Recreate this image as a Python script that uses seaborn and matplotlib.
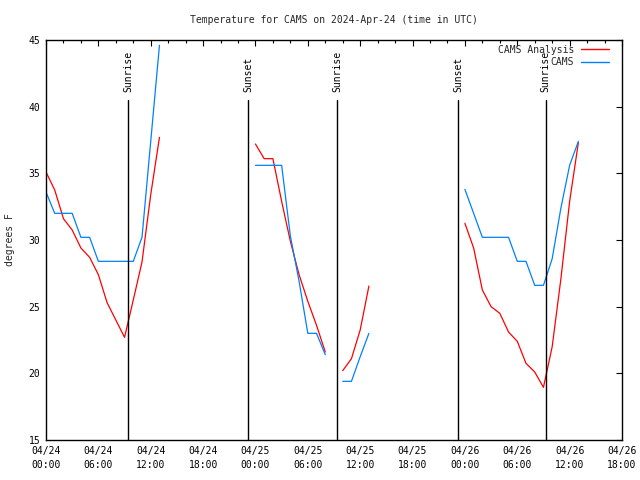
import matplotlib
matplotlib.use("Agg")
import matplotlib.pyplot as plt
import matplotlib.dates as mdates
from matplotlib.lines import Line2D
import numpy as np
import pandas as pd
import seaborn as sns

# ---------------- data ----------------
start = "2024-04-24 00:00"
hours_seg1 = list(range(0, 14))
analysis_seg1 = [35.1, 33.75, 31.6, 30.75, 29.4, 28.7, 27.4, 25.3, 24.0, 22.7, 25.5, 28.35, 33.4, 37.7]
cams_seg1 = [33.6, 32.0, 32.0, 32.0, 30.2, 30.2, 28.4, 28.4, 28.4, 28.4, 28.4, 30.2, 37.4, 44.6]

hours_seg2 = list(range(24, 33))
analysis_seg2 = [37.2, 36.1, 36.1, 32.9, 29.9, 27.4, 25.4, 23.6, 21.6]
cams_seg2 = [35.6, 35.6, 35.6, 35.6, 30.3, 26.9, 23.0, 23.0, 21.4]

hours_seg3 = list(range(34, 38))
analysis_seg3 = [20.2, 21.1, 23.25, 26.55]
cams_seg3 = [19.4, 19.4, 21.25, 23.0]

hours_seg4 = list(range(48, 62))
analysis_seg4 = [31.25, 29.4, 26.25, 25.0, 24.5, 23.1, 22.4, 20.75, 20.1, 18.95, 22.0, 27.1, 32.9, 37.3]
cams_seg4 = [33.8, 32.0, 30.2, 30.2, 30.2, 30.2, 28.4, 28.4, 26.6, 26.6, 28.6, 32.4, 35.6, 37.4]

sun_labels = ["Sunrise", "Sunset", "Sunrise", "Sunset", "Sunrise"]
sun_times = ["2024-04-24 09:26", "2024-04-24 23:11", "2024-04-25 09:23",
             "2024-04-25 23:15", "2024-04-26 09:16"]

series_names = ["CAMS Analysis", "CAMS"]
series_colors = ["#ff0000", "#0080ff"]

title = "Temperature for CAMS on 2024-Apr-24 (time in UTC)"
ylabel = "degrees F"

# ---------------- build table ----------------
rows = []
segs = [(hours_seg1, analysis_seg1, cams_seg1),
        (hours_seg2, analysis_seg2, cams_seg2),
        (hours_seg3, analysis_seg3, cams_seg3),
        (hours_seg4, analysis_seg4, cams_seg4)]
t0 = pd.Timestamp(start)
for si, (hrs, a, c) in enumerate(segs):
    for h, va, vc in zip(hrs, a, c):
        rows.append(dict(time=t0 + pd.Timedelta(hours=h), value=va,
                         series=series_names[0], seg=si))
        rows.append(dict(time=t0 + pd.Timedelta(hours=h), value=vc,
                         series=series_names[1], seg=si))
df = pd.DataFrame(rows)

sns.set_theme(style="white")
plt.rcParams["font.family"] = ["DejaVu Sans Mono", "DejaVu Sans"]
plt.rcParams["font.size"] = 7

fig = plt.figure(figsize=(6.4, 4.8), dpi=100)
ax = fig.add_axes([46 / 640, 40 / 480, 576 / 640, 400 / 480])

sns.lineplot(data=df, x="time", y="value", hue="series", units="seg",
             estimator=None, palette=dict(zip(series_names, series_colors)),
             hue_order=series_names, linewidth=0.9, legend=False, ax=ax,
             sort=True)

ax.set_xlim(t0, t0 + pd.Timedelta(hours=66))
ax.set_ylim(15, 45)
ax.set_yticks(np.arange(15, 46, 5))

for lab, st in zip(sun_labels, sun_times):
    ts = pd.Timestamp(st)
    ax.plot([ts, ts], [15, 40.5], color="black", linewidth=1.0)
    ax.text(ts, 41.1, lab, rotation=90, ha="center", va="bottom",
            fontsize=7, color="black")

ax.xaxis.set_major_locator(mdates.HourLocator(byhour=[0, 6, 12, 18]))
ax.xaxis.set_minor_locator(mdates.HourLocator(byhour=range(0, 24, 2)))
ax.xaxis.set_major_formatter(mdates.DateFormatter("%m/%d\n%H:%M"))

ax.tick_params(axis="both", which="both", direction="in", top=True, right=True,
               colors="black", labelsize=7)
ax.tick_params(axis="both", which="major", length=4, width=0.8, pad=4)
ax.tick_params(axis="x", which="minor", length=2.5, width=0.8)
for lab in ax.get_xticklabels():
    lab.set_linespacing(1.5)

for sp in ax.spines.values():
    sp.set_color("black")
    sp.set_linewidth(1.0)

ax.set_xlabel("")
ax.set_ylabel(ylabel, fontsize=7, labelpad=10)
fig.text(334 / 640, 1 - 20 / 480, title, ha="center", va="center", fontsize=7)

handles = [Line2D([], [], color=c, linewidth=1.0) for c in series_colors]
leg = ax.legend(handles, series_names, loc="upper right", frameon=False,
                bbox_to_anchor=(1 - 6 / 576, 1 + 2 / 400),
                markerfirst=False, handlelength=2.9, handletextpad=0.7,
                labelspacing=0.25, borderaxespad=0.4, fontsize=7,
                borderpad=0.3)
for t in leg.get_texts():
    t.set_ha("right")

fig.savefig("out.png", dpi=100)
